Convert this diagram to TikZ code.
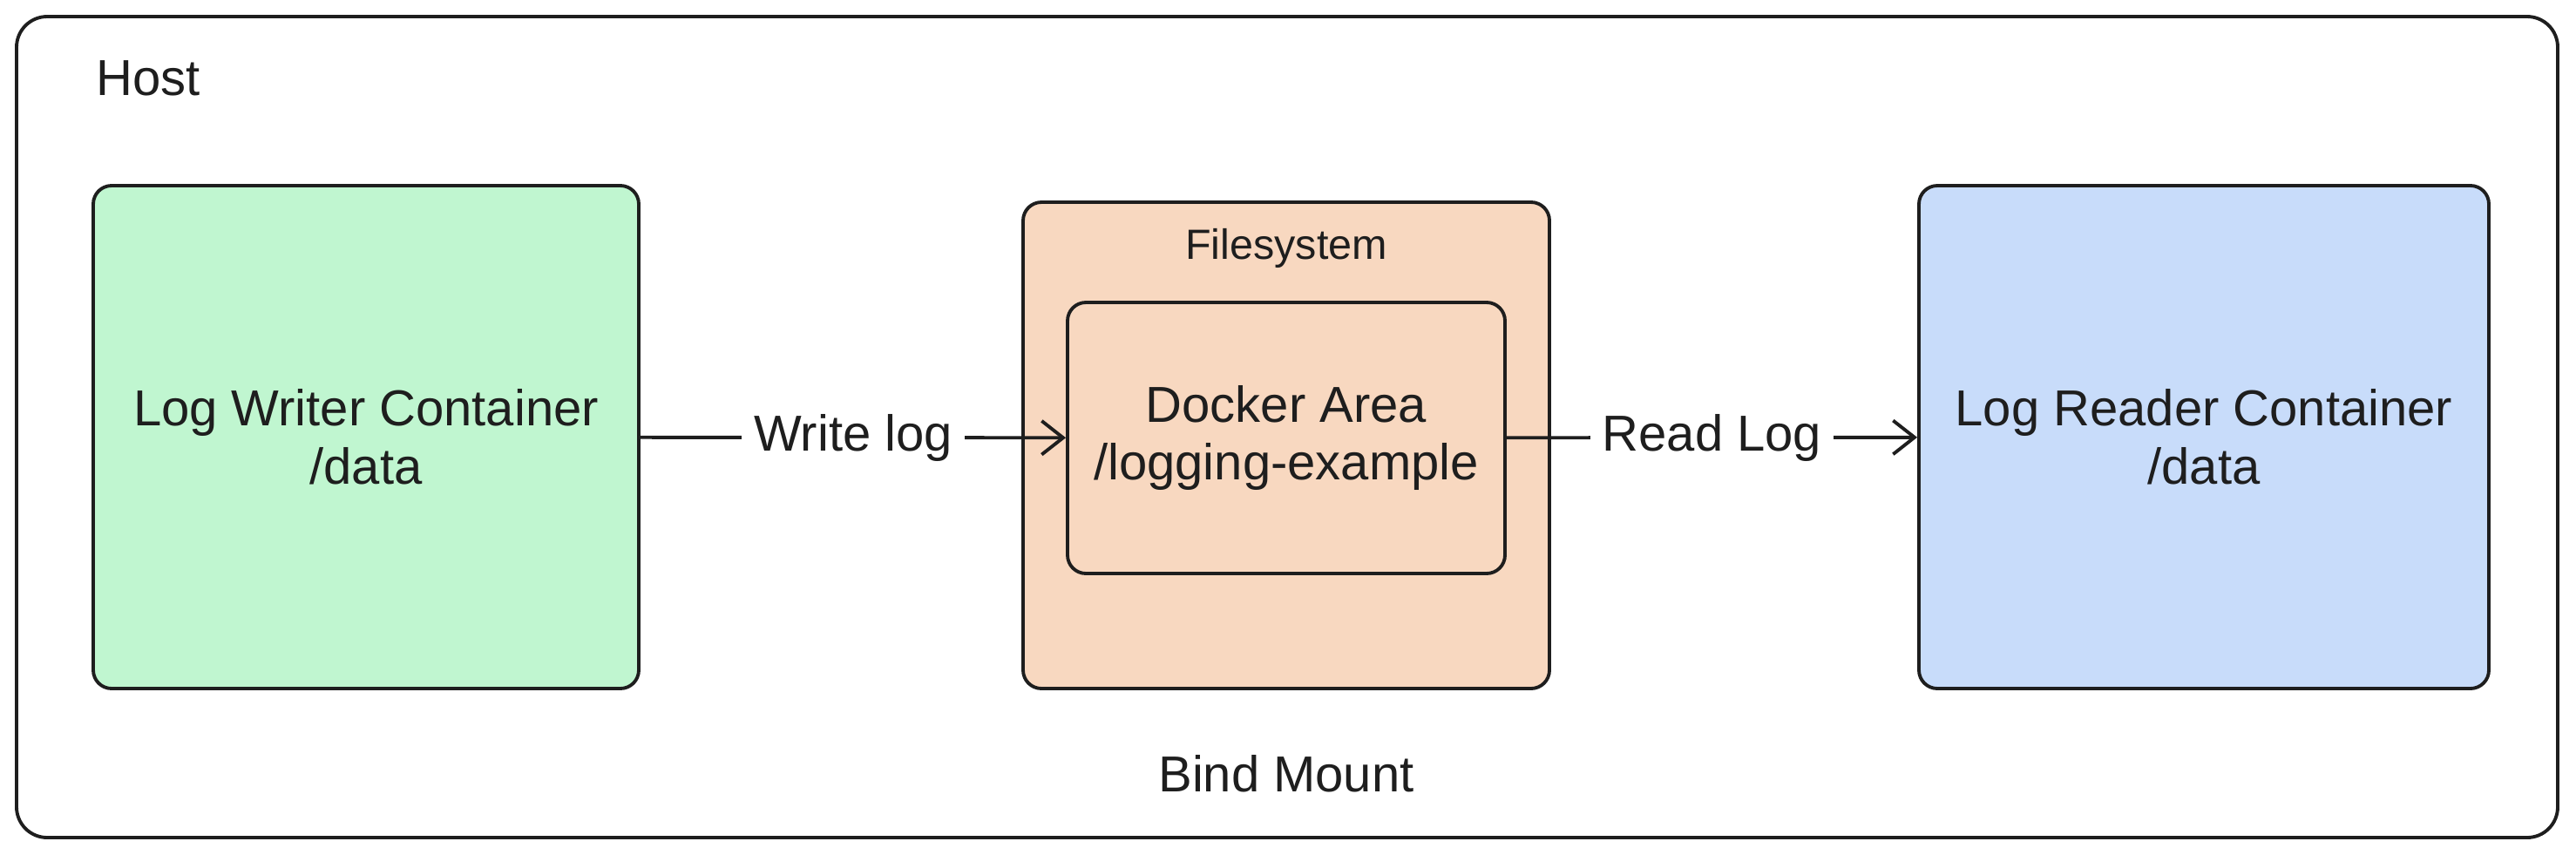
\documentclass[tikz,border=0pt]{standalone}
\usepackage{fontspec}
\setmainfont{Liberation Sans}
\usetikzlibrary{arrows.meta,positioning}

\definecolor{inkgray}{HTML}{1E1E1E}
\definecolor{writergreen}{HTML}{C0F6D0}
\definecolor{fsorange}{HTML}{F8D8C0}
\definecolor{readerblue}{HTML}{C8DCFA}

\begin{document}
\begin{tikzpicture}[>={Straight Barb[length=7pt,width=11pt]},line width=1.1pt,draw=inkgray,text=inkgray]
\tikzstyle{every node}=[font=\fontsize{16.5}{19}\selectfont,align=center,inner sep=0pt]
\tikzstyle{box}=[draw=inkgray,rounded corners=6pt]
\tikzstyle{lbl}=[fill=white,inner xsep=4pt,inner ysep=3pt]
\useasboundingbox (0,0) rectangle (29.56,9.8);
\node[box,rounded corners=10pt,minimum width=29.16cm,minimum height=9.42cm] (host) at (14.77,4.90) {};
\node (hostname) at (1.70,8.90) {Host};
\node[box,fill=writergreen,minimum width=6.26cm,minimum height=5.77cm] (writer) at (4.20,4.785) {Log Writer Container\\/data};
\node[box,fill=fsorange,minimum width=6.04cm,minimum height=5.58cm] (fs) at (14.76,4.69) {};
\node[font=\fontsize{13.8}{16}\selectfont] (fsname) at (14.76,6.95) {Filesystem};
\node[box,fill=fsorange,minimum width=5.02cm,minimum height=3.11cm] (docker) at (14.76,4.775) {Docker Area\\/logging-example};
\node[box,fill=readerblue,minimum width=6.54cm,minimum height=5.77cm] (reader) at (25.29,4.785) {Log Reader Container\\/data};
\node (bind) at (14.76,0.92) {Bind Mount};
\path[->,draw=inkgray] (writer) edge node[lbl]{Write log} (docker)
          (docker) edge node[lbl]{Read Log} (reader);
\end{tikzpicture}
\end{document}
